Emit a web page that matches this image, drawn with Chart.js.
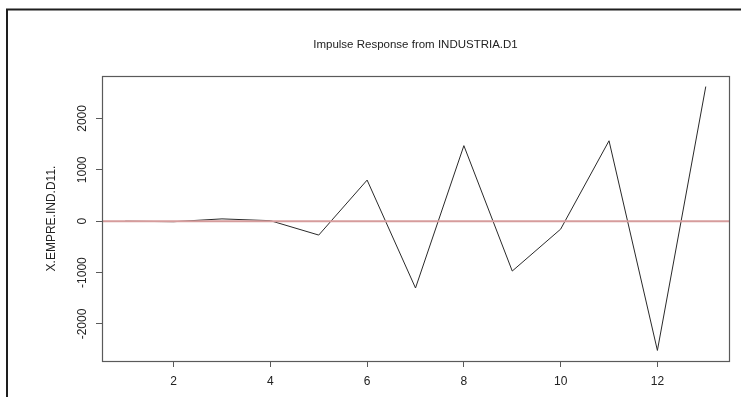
<!DOCTYPE html>
<html>
<head>
<meta charset="utf-8">
<script src="https://cdn.jsdelivr.net/npm/chart.js@4.4.1/dist/chart.umd.min.js"></script>
<style>
  html, body { margin: 0; padding: 0; background: #ffffff; }
  canvas { display: block; }
</style>
</head>
<body>
<canvas id="irf" width="741" height="397"></canvas>
<script>
// Impulse response of X.EMPRE.IND.D11. to a shock in INDUSTRIA.D1
const steps = [1, 2, 3, 4, 5, 6, 7, 8, 9, 10, 11, 12, 13];
const response = [0, -10, 45, 10, -270, 800, -1300, 1470, -970, -155, 1565, -2515, 2620];
const xTickValues = [2, 4, 6, 8, 10, 12];
const yTickValues = [-2000, -1000, 0, 1000, 2000];
const chartTitle = 'Impulse Response from INDUSTRIA.D1';
const yTitle = 'X.EMPRE.IND.D11.';

const FONT = '"Liberation Sans", Arial, Helvetica, sans-serif';
const TEXT = '#222222';
const AXIS = '#5a5a5a';

// R-style 4% padding around the data range
function padRange(vals) {
  const lo = Math.min(...vals), hi = Math.max(...vals);
  const d = (hi - lo) * 0.04;
  return [lo - d, hi + d];
}
const [xMin, xMax] = padRange(steps);
const [yMin, yMax] = padRange(response);

const framePlugin = {
  id: 'frame',
  beforeDraw(chart) {
    const { ctx, width, height } = chart;
    ctx.save();
    ctx.fillStyle = '#ffffff';
    ctx.fillRect(0, 0, width, height);
    ctx.restore();
  },
  afterDatasetsDraw(chart) {
    const { ctx, chartArea: a, scales } = chart;
    ctx.save();
    // zero reference line
    const y0 = scales.y.getPixelForValue(0);
    ctx.strokeStyle = '#d69c9c';
    ctx.lineWidth = 2;
    ctx.beginPath();
    ctx.moveTo(a.left, y0);
    ctx.lineTo(a.right, y0);
    ctx.stroke();
    // plot box
    ctx.strokeStyle = AXIS;
    ctx.lineWidth = 1.2;
    ctx.strokeRect(Math.round(a.left) + 0.5, Math.round(a.top) + 0.5,
                   Math.round(a.right - a.left), Math.round(a.bottom - a.top));
    // outer device frame
    ctx.strokeStyle = '#1e1e1e';
    ctx.lineWidth = 2;
    ctx.beginPath();
    ctx.moveTo(7, chart.height);
    ctx.lineTo(7, 9.5);
    ctx.lineTo(chart.width, 9.5);
    ctx.stroke();
    ctx.restore();
  }
};

new Chart(document.getElementById('irf'), {
  type: 'line',
  data: {
    datasets: [{
      data: steps.map((s, i) => ({ x: s, y: response[i] })),
      borderColor: '#2a2a2a',
      borderWidth: 1,
      pointRadius: 0,
      tension: 0,
      fill: false
    }]
  },
  options: {
    responsive: false,
    animation: false,
    events: [],
    layout: { padding: { left: 0, right: 12, top: 0, bottom: 0 } },
    plugins: {
      legend: { display: false },
      tooltip: { enabled: false },
      title: {
        display: true,
        text: chartTitle,
        fullSize: false,
        color: TEXT,
        font: { family: FONT, size: 11.5, weight: 'normal', lineHeight: 1.2 },
        padding: { top: 37.6, bottom: 24.6 }
      }
    },
    scales: {
      x: {
        type: 'linear',
        min: xMin,
        max: xMax,
        afterBuildTicks: (s) => { s.ticks = xTickValues.map(v => ({ value: v })); },
        afterFit: (s) => { s.height = 36; },
        border: { display: false },
        grid: { drawOnChartArea: false, drawTicks: true, tickLength: 6, color: AXIS, lineWidth: 1 },
        ticks: {
          color: TEXT,
          padding: 7,
          maxRotation: 0,
          autoSkip: false,
          font: { family: FONT, size: 12 },
          callback: (v) => String(v)
        }
      },
      y: {
        type: 'linear',
        min: yMin,
        max: yMax,
        afterBuildTicks: (s) => { s.ticks = yTickValues.map(v => ({ value: v })); },
        afterFit: (s) => { s.width = 102; },
        border: { display: false },
        grid: { drawOnChartArea: false, drawTicks: true, tickLength: 6, color: AXIS, lineWidth: 1 },
        ticks: {
          color: TEXT,
          padding: -2,
          minRotation: 90,
          maxRotation: 90,
          crossAlign: 'center',
          autoSkip: false,
          font: { family: FONT, size: 12 },
          callback: (v) => String(v)
        },
        title: {
          display: true,
          text: yTitle,
          color: TEXT,
          font: { family: FONT, size: 12, weight: 'normal', lineHeight: 1.2 },
          padding: { top: 44.8, bottom: 0 }
        }
      }
    }
  },
  plugins: [framePlugin]
});
</script>
</body>
</html>
